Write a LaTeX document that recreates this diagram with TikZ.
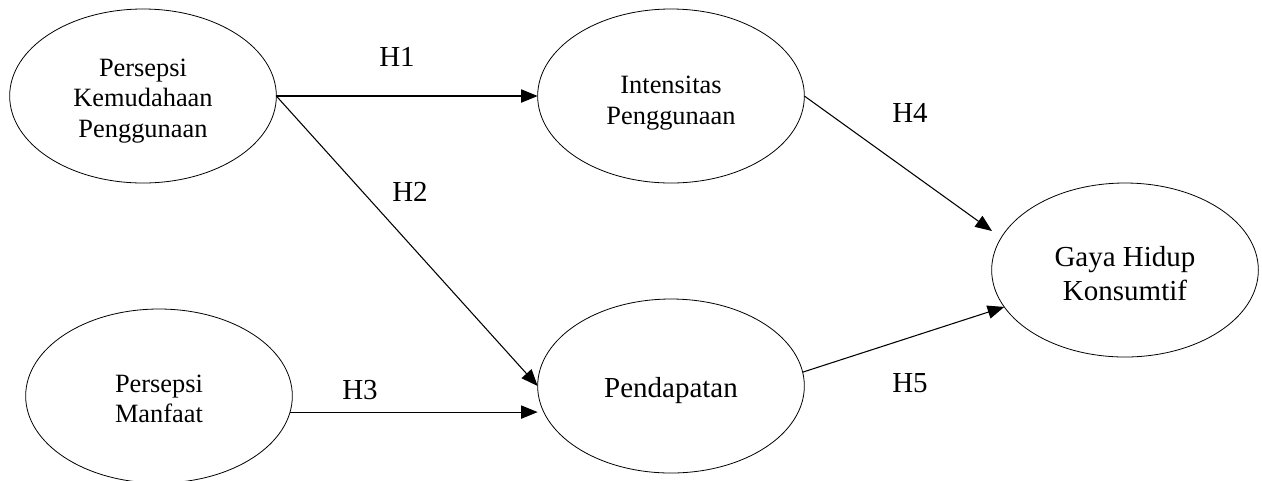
\documentclass[tikz,border=0pt]{standalone}
\usepackage{fontspec}
\setmainfont{Liberation Serif}
\usetikzlibrary{shapes.geometric,arrows.meta}
\tikzset{
  var/.style={ellipse, draw, line width=0.6pt, inner sep=0pt, outer sep=0pt,
    minimum width=200pt, minimum height=130.5pt},
  small/.style={font=\fontsize{19.8}{22.9}\selectfont, align=center, inner sep=0pt},
  big/.style={font=\fontsize{21.75}{26}\selectfont, align=center, inner sep=0pt},
  arr/.style={line width=0.8pt, -{Triangle[length=12.5pt,width=10pt]}},
  hlab/.style={font=\fontsize{21.75}{26}\selectfont, inner sep=0pt}
}
\begin{document}
\begin{tikzpicture}[x=0.75pt,y=-0.75pt]
\useasboundingbox (0,0) rectangle (1262,480);
\node[var] (e1) at (143,96) {};
\node[var] (e2) at (159,396) {};
\node[var] (e3) at (671,96) {};
\node[var] (e4) at (671,386) {};
\node[var] (e5) at (1125,270) {};
\node[small, yshift=-3.75pt] (l1) at (e1) {Persepsi\\Kemudahaan\\Penggunaan};
\node[small, yshift=-2.25pt] (l2) at (e2) {Persepsi\\Manfaat};
\node[small, yshift=-5.25pt] (l3) at (e3) {Intensitas\\Penggunaan};
\node[big, yshift=-3.75pt] (l4) at (e4) {Pendapatan};
\node[big, yshift=-2.6pt] (l5) at (e5) {Gaya Hidup\\Konsumtif};
\coordinate (t4) at (992,231);
\draw[arr] (e1.east) -- (e3.west);
\draw[arr] (e1.east) -- (e4.west);
\draw[arr] (e2.-7) -- (e2.-7 -| e4.west);
\draw[arr] (e3.east) -- (t4);
\draw[arr] (e4.6) -- (e5.197);
\node[hlab] (h1) at (397,57) {H1};
\node[hlab] (h2) at (410,192) {H2};
\node[hlab] (h3) at (360,390) {H3};
\node[hlab] (h4) at (910,113) {H4};
\node[hlab] (h5) at (910,383) {H5};
\end{tikzpicture}
\end{document}
